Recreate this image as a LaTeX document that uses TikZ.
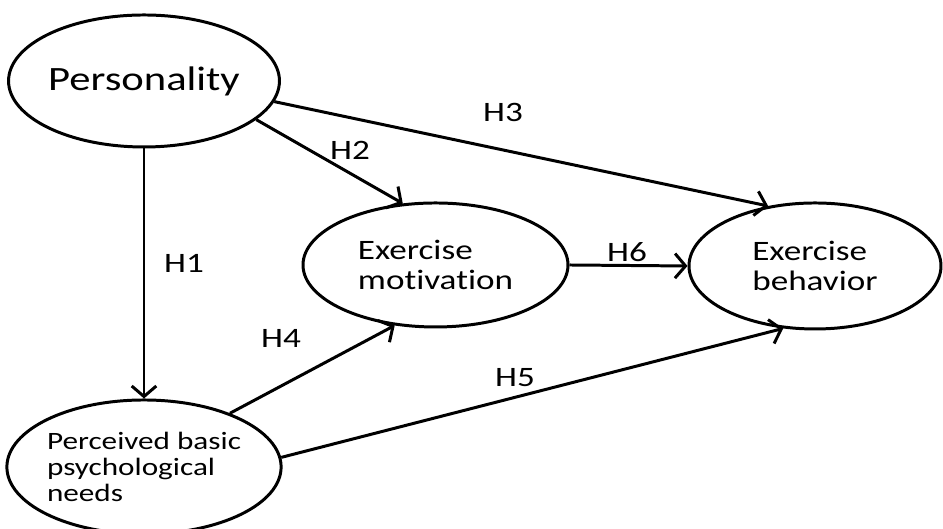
\documentclass[tikz,border=0pt]{standalone}
\usepackage{fontspec}
\setmainfont{Carlito}[FakeStretch=1.25,Ligatures={NoCommon}]
\usetikzlibrary{shapes.geometric,arrows.meta}
\tikzset{
  var/.style={draw,ellipse,line width=.85pt,inner sep=0pt,align=left},
  hyp/.style={line width=.85pt,-{Straight Barb[length=3pt,width=7pt]}},
  hlab/.style={font=\fontsize{8}{9}\selectfont}
}
\begin{document}
\begin{tikzpicture}
\useasboundingbox (0,0) rectangle (9.43,5.29);
\clip (0,0) rectangle (9.43,5.29);
\node[var,minimum width=2.66cm,minimum height=1.32cm,font=\fontsize{9.7}{11}\selectfont] (pers) at (1.44,4.48) {Personality};
\node[var,minimum width=2.66cm,minimum height=1.34cm,font=\fontsize{7.1}{7.4}\selectfont] (perc) at (1.44,0.62) {Perceived basic\\psychological\\needs};
\node[var,minimum width=2.65cm,minimum height=1.24cm,font=\fontsize{8}{8.55}\selectfont] (motiv) at (4.355,2.64) {Exercise\\motivation};
\node[var,minimum width=2.52cm,minimum height=1.26cm,font=\fontsize{8}{8.55}\selectfont] (behav) at (8.15,2.63) {Exercise\\behavior};

\draw[hyp] (pers.south) -- (perc.north);
\draw[hyp] (pers.-19) -- (motiv.118);
\draw[hyp] (pers.-9) -- (behav.128);
\draw[hyp] (perc.32) -- (motiv.-124);
\draw[hyp] (perc.4) -- (behav.-117);
\draw[hyp] (motiv.east) -- (behav.west);

\node[hlab] (h1) at (1.84,2.66) {H1};
\node[hlab] (h2) at (3.50,3.79) {H2};
\node[hlab] (h3) at (5.03,4.17) {H3};
\node[hlab] (h4) at (2.81,1.91) {H4};
\node[hlab] (h5) at (5.15,1.51) {H5};
\node[hlab] (h6) at (6.27,2.77) {H6};
\end{tikzpicture}
\end{document}
